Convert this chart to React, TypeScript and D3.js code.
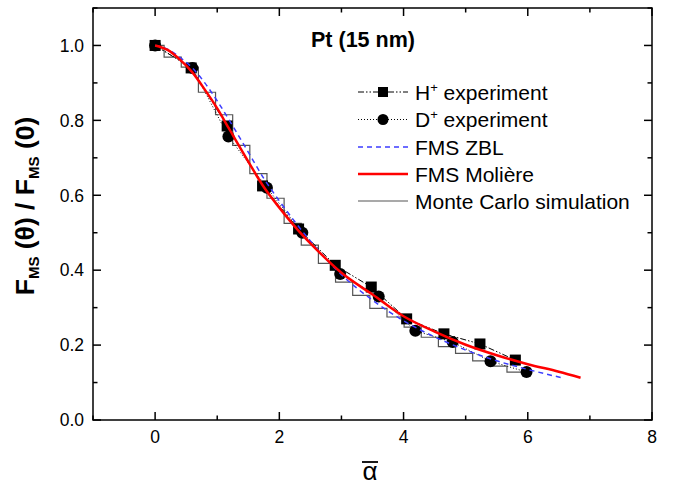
import React from 'react';
import { scaleLinear, line, curveMonotoneX, curveStepAfter, range } from 'd3';

// H+ experiment (squares)
const hX = [0, 0.58, 1.16, 1.73, 2.31, 2.9, 3.48, 4.05, 4.65, 5.23, 5.8];
const hY = [1.0, 0.94, 0.785, 0.625, 0.51, 0.413, 0.355, 0.27, 0.23, 0.203, 0.16];

// D+ experiment (circles)
const dX = [0, 0.6, 1.18, 1.8, 2.37, 2.98, 3.6, 4.19, 4.79, 5.4, 5.98];
const dY = [1.0, 0.94, 0.757, 0.62, 0.5, 0.39, 0.33, 0.238, 0.208, 0.157, 0.128];

// FMS ZBL
const zblX = [0, 0.2, 0.4, 0.6, 0.8, 1.0, 1.25, 1.5, 1.75, 2.0, 2.5, 3.0, 3.5, 4.0, 4.5, 5.0, 5.5, 6.0, 6.57];
const zblY = [1.0, 0.99, 0.968, 0.94, 0.9, 0.852, 0.785, 0.715, 0.645, 0.585, 0.478, 0.388, 0.32, 0.265, 0.222, 0.187, 0.158, 0.135, 0.112];

// FMS Molière
const molX = [0, 0.2, 0.4, 0.6, 0.8, 1.0, 1.2, 1.5, 1.75, 2.0, 2.3, 2.6, 3.0, 3.5, 4.0, 4.5, 5.0, 5.5, 6.0, 6.5, 6.85];
const molY = [1.0, 0.988, 0.962, 0.928, 0.882, 0.832, 0.775, 0.69, 0.622, 0.567, 0.507, 0.455, 0.393, 0.335, 0.277, 0.236, 0.201, 0.173, 0.149, 0.129, 0.113];

// Monte Carlo simulation (bin edges / levels)
const mcX = [0, 0.145, 0.421, 0.697, 0.973, 1.249, 1.525, 1.801, 2.077, 2.353, 2.629, 2.905, 3.181, 3.457, 3.733, 4.009, 4.285, 4.561, 4.837, 5.113, 5.389, 5.665, 5.94];
const mcY = [1.0, 0.969, 0.942, 0.875, 0.815, 0.733, 0.658, 0.592, 0.525, 0.467, 0.418, 0.368, 0.333, 0.298, 0.275, 0.248, 0.221, 0.196, 0.178, 0.158, 0.144, 0.128, 0.128];

const xTicks = [0, 2, 4, 6, 8];
const yTicks = [0.0, 0.2, 0.4, 0.6, 0.8, 1.0];

const W = 676;
const H = 487;
const left = 93, right = 652, top = 8, bottom = 420;
const FONT = 'Liberation Sans, Arial, sans-serif';

type P = [number, number];
const zip = (xs: number[], ys: number[]): P[] => xs.map((x, i) => [x, ys[i]]);

export default function App() {
  const x = scaleLinear().domain([-1, 8]).range([left, right]);
  const y = scaleLinear().domain([0, 1.1]).range([bottom, top]);

  const smooth = line<P>().x(d => x(d[0])).y(d => y(d[1])).curve(curveMonotoneX);
  const straight = line<P>().x(d => x(d[0])).y(d => y(d[1]));
  const steps = line<P>().x(d => x(d[0])).y(d => y(d[1])).curve(curveStepAfter);

  const hPts = zip(hX, hY);
  const dPts = zip(dX, dY);

  const xMinor = range(-1, 8.01, 1);
  const yMinor = range(0, 1.101, 0.1);

  const legendRows = [92, 119.5, 147, 174, 201];
  const lx0 = 358, lx1 = 408, tx = 415;

  return (
    <svg width={W} height={H} style={{ position: 'absolute', left: 0, top: 0, background: '#fff' }}>
      <rect x={0} y={0} width={W} height={H} fill="#fff" />

      {/* Monte Carlo staircase */}
      <path d={steps(zip(mcX, mcY)) || ''} fill="none" stroke="#555" strokeWidth={1.2} />

      {/* H+ experiment */}
      <path d={straight(hPts) || ''} fill="none" stroke="#000" strokeWidth={1} strokeDasharray="6,2,1.5,2,1.5,2" />
      {hPts.map((p, i) => (
        <rect key={'h' + i} x={x(p[0]) - 5.5} y={y(p[1]) - 5.5} width={11} height={11} fill="#000" />
      ))}

      {/* D+ experiment */}
      <path d={straight(dPts) || ''} fill="none" stroke="#000" strokeWidth={1} strokeDasharray="1,2" />
      {dPts.map((p, i) => (
        <circle key={'d' + i} cx={x(p[0])} cy={y(p[1])} r={6} fill="#000" />
      ))}

      {/* FMS ZBL */}
      <path d={smooth(zip(zblX, zblY)) || ''} fill="none" stroke="#3c3cff" strokeWidth={1.5} strokeDasharray="5,4" />
      {/* FMS Molière */}
      <path d={smooth(zip(molX, molY)) || ''} fill="none" stroke="#ff0000" strokeWidth={2.5} />

      {/* frame */}
      <rect x={left} y={top} width={right - left} height={bottom - top} fill="none" stroke="#000" strokeWidth={1.5} />

      {/* x ticks (bottom & top, inward) */}
      {xMinor.map(v => {
        const major = Math.abs(v % 2) < 1e-6;
        const len = major ? 8 : 4.5;
        return (
          <g key={'xt' + v}>
            <line x1={x(v)} x2={x(v)} y1={bottom} y2={bottom - len} stroke="#000" strokeWidth={1.5} />
            <line x1={x(v)} x2={x(v)} y1={top} y2={top + len} stroke="#000" strokeWidth={1.5} />
          </g>
        );
      })}
      {/* y ticks (left & right, inward) */}
      {yMinor.map((v, i) => {
        const major = i % 2 === 0;
        const len = major ? 8 : 4.5;
        return (
          <g key={'yt' + i}>
            <line x1={left} x2={left + len} y1={y(v)} y2={y(v)} stroke="#000" strokeWidth={1.5} />
            <line x1={right} x2={right - len} y1={y(v)} y2={y(v)} stroke="#000" strokeWidth={1.5} />
          </g>
        );
      })}

      {xTicks.map(v => (
        <text key={'xl' + v} x={x(v)} y={443} textAnchor="middle" fontFamily={FONT} fontSize={17.5}>{v}</text>
      ))}
      {yTicks.map(v => (
        <text key={'yl' + v} x={84} y={y(v)} dy="0.36em" textAnchor="end" fontFamily={FONT} fontSize={17.5}>{v.toFixed(1)}</text>
      ))}

      {/* axis titles */}
      <text x={370} y={480} textAnchor="middle" fontFamily={FONT} fontSize={26}>α</text>
      <line x1={362} x2={378} y1={462} y2={462} stroke="#000" strokeWidth={1.8} />

      <text transform={`translate(34,206) rotate(-90)`} textAnchor="middle" fontFamily={FONT} fontWeight="bold" fontSize={26.5}>
        <tspan>F</tspan>
        <tspan fontSize={15} dy={5}>MS</tspan>
        <tspan dy={-5}> (θ) / F</tspan>
        <tspan fontSize={15} dy={5}>MS</tspan>
        <tspan dy={-5}> (0)</tspan>
      </text>

      <text x={311} y={47} fontFamily={FONT} fontWeight="bold" fontSize={21.5}>Pt (15 nm)</text>

      {/* legend */}
      <g fontFamily={FONT} fontSize={21}>
        <line x1={lx0} x2={lx1} y1={legendRows[0]} y2={legendRows[0]} stroke="#000" strokeWidth={1} strokeDasharray="6,2,1.5,2,1.5,2" />
        <rect x={383 - 5} y={legendRows[0] - 5} width={10} height={10} fill="#000" />
        <text x={tx} y={legendRows[0]} dy="0.36em">H<tspan fontSize={13} dy={-8}>+</tspan><tspan dy={8}> experiment</tspan></text>

        <line x1={lx0} x2={lx1} y1={legendRows[1]} y2={legendRows[1]} stroke="#000" strokeWidth={1} strokeDasharray="1,2" />
        <circle cx={383} cy={legendRows[1]} r={5.5} fill="#000" />
        <text x={tx} y={legendRows[1]} dy="0.36em">D<tspan fontSize={13} dy={-8}>+</tspan><tspan dy={8}> experiment</tspan></text>

        <line x1={lx0} x2={lx1} y1={legendRows[2]} y2={legendRows[2]} stroke="#3c3cff" strokeWidth={1.5} strokeDasharray="5,4" />
        <text x={tx} y={legendRows[2]} dy="0.36em">FMS ZBL</text>

        <line x1={lx0} x2={lx1} y1={legendRows[3]} y2={legendRows[3]} stroke="#ff0000" strokeWidth={2.5} />
        <text x={tx} y={legendRows[3]} dy="0.36em">FMS Molière</text>

        <line x1={lx0} x2={lx1} y1={legendRows[4]} y2={legendRows[4]} stroke="#555" strokeWidth={1.2} />
        <text x={tx} y={legendRows[4]} dy="0.36em">Monte Carlo simulation</text>
      </g>
    </svg>
  );
}
